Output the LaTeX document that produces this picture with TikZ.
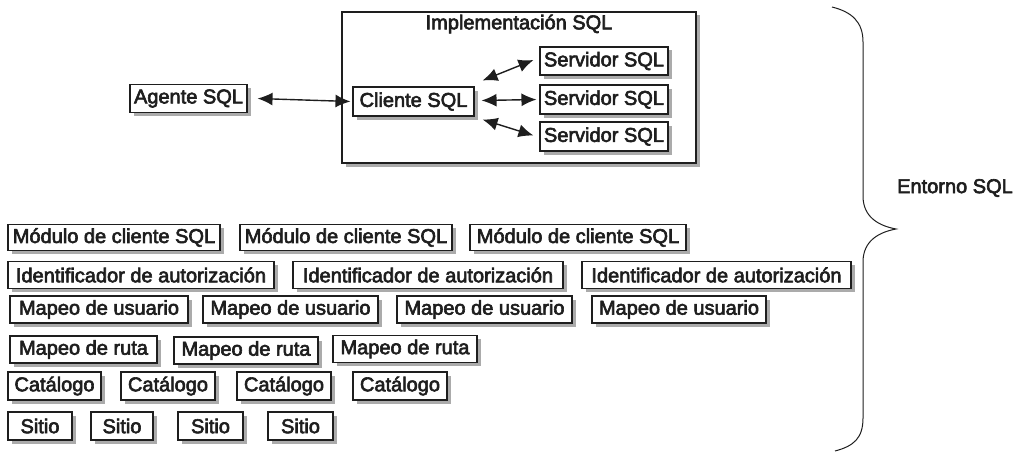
\documentclass[tikz,border=0pt]{standalone}
\usepackage{fontspec}
\setmainfont{Liberation Sans}[FakeBold=3]
\usetikzlibrary{arrows.meta,shadows,calc}
\definecolor{ink}{HTML}{1E1E1E}
\definecolor{shade}{HTML}{ABABAB}
\tikzset{
  box/.style={draw=ink, line width=1.1pt, fill=white, text=ink, inner sep=1pt,
    font=\fontsize{20}{23}\selectfont,
    drop shadow={shadow xshift=3.5pt, shadow yshift=-3.5pt, opacity=1, fill=shade}},
  arr/.style={draw=ink, line width=1.4pt, {Latex[length=15pt,width=13pt]}-{Latex[length=15pt,width=13pt]}},
  lbl/.style={text=ink, font=\fontsize{20}{23}\selectfont, inner sep=0pt},
}
\begin{document}
\begin{tikzpicture}[x=1pt,y=-1pt]
\useasboundingbox (0,0) rectangle (1016,452);
% implementation frame
\node[box, minimum width=354pt, minimum height=151pt] (impl) at (519,87.5) {};
\node[lbl] (impltxt) at (519,24) {Implementación SQL};
% top nodes
\node[box, minimum width=117pt, minimum height=28pt] (ag) at (188.5,98.5) {Agente SQL};
\node[box, minimum width=121pt, minimum height=29pt] (cl) at (413.5,101.5) {Cliente SQL};
\node[box, minimum width=128pt, minimum height=28pt] (s1) at (604,61) {Servidor SQL};
\node[box, minimum width=128pt, minimum height=29pt] (s2) at (604,99.5) {Servidor SQL};
\node[box, minimum width=128pt, minimum height=29pt] (s3) at (604,136.5) {Servidor SQL};
\draw[arr] ($(ag.east)+(10,0)$) -- ($(cl.west)+(-2,0)$);
\draw[arr] ($(cl.east)+(8,-21)$) -- ($(s1.west)+(-6,-1)$);
\draw[arr] ($(cl.east)+(7,-1)$) -- ($(s2.west)+(-3,0)$);
\draw[arr] ($(cl.east)+(8,18)$) -- ($(s3.west)+(-6,-1)$);
% row 1
\node[box, minimum width=212pt, minimum height=26pt] (m1) at (114,237.5) {Módulo de cliente SQL};
\node[box, minimum width=212pt, minimum height=26pt] (m2) at (346,237.5) {Módulo de cliente SQL};
\node[box, minimum width=216pt, minimum height=26pt] (m3) at (578,237.5) {Módulo de cliente SQL};
% row 2
\node[box, minimum width=266pt, minimum height=27pt] (i1) at (141,275) {Identificador de autorización};
\node[box, minimum width=270pt, minimum height=27pt] (i2) at (428,275) {Identificador de autorización};
\node[box, minimum width=269pt, minimum height=27pt] (i3) at (716.5,275) {Identificador de autorización};
% row 3
\node[box, minimum width=178pt, minimum height=27pt] (u1) at (99,309.5) {Mapeo de usuario};
\node[box, minimum width=175pt, minimum height=27pt] (u2) at (290.5,309.5) {Mapeo de usuario};
\node[box, minimum width=175pt, minimum height=27pt] (u3) at (484.5,309.5) {Mapeo de usuario};
\node[box, minimum width=174pt, minimum height=27pt] (u4) at (679,309.5) {Mapeo de usuario};
% row 4
\node[box, minimum width=147pt, minimum height=27pt] (r1) at (83.5,349.5) {Mapeo de ruta};
\node[box, minimum width=144pt, minimum height=27pt] (r2) at (246,350.5) {Mapeo de ruta};
\node[box, minimum width=144pt, minimum height=27pt] (r3) at (405,349) {Mapeo de ruta};
% row 5
\node[box, minimum width=93pt, minimum height=28pt] (c1) at (54.5,386) {Catálogo};
\node[box, minimum width=94pt, minimum height=28pt] (c2) at (168,386) {Catálogo};
\node[box, minimum width=94pt, minimum height=28pt] (c3) at (284,386) {Catálogo};
\node[box, minimum width=94pt, minimum height=28pt] (c4) at (400,386) {Catálogo};
% row 6
\node[box, minimum width=64pt, minimum height=28pt] (t1) at (40,426) {Sitio};
\node[box, minimum width=62pt, minimum height=28pt] (t2) at (122,426) {Sitio};
\node[box, minimum width=65pt, minimum height=28pt] (t3) at (210.5,426) {Sitio};
\node[box, minimum width=65pt, minimum height=28pt] (t4) at (300.5,426) {Sitio};
% brace
\coordinate (bt) at (832,7);
\coordinate (tip) at (896,229);
\coordinate (bb) at (835,451);
\draw[draw=ink, line width=1pt] (bt) .. controls (852,12) and (863,22) .. (863,42)
  -- (863,196) .. controls (863,218) and (880,226) .. (tip)
  .. controls (880,232) and (863,240) .. (863,262)
  -- (863,418) .. controls (863,438) and (854,446) .. (bb);
\node[lbl, anchor=east] (env) at (1013,188) {Entorno SQL};
\end{tikzpicture}
\end{document}
